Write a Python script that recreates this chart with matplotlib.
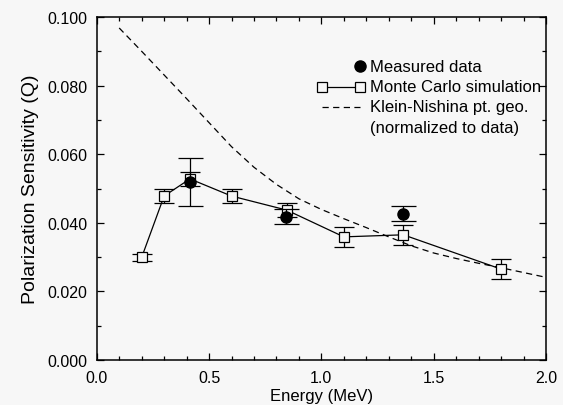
import matplotlib
matplotlib.use("Agg")
import matplotlib.pyplot as plt
from matplotlib.ticker import MultipleLocator, FormatStrFormatter

plt.rcParams['font.family'] = ['Liberation Sans', 'DejaVu Sans']

# Monte Carlo simulation
mc_energy = [0.20, 0.30, 0.415, 0.60, 0.846, 1.10, 1.365, 1.80]
mc_q = [0.0299, 0.0478, 0.0528, 0.0478, 0.0437, 0.0359, 0.0365, 0.0265]
mc_err = [0.0011, 0.0020, 0.0021, 0.0020, 0.0021, 0.0029, 0.0030, 0.0029]

# measured data
meas_energy = [0.415, 0.843, 1.365]
meas_q = [0.0518, 0.0418, 0.0427]
meas_err = [0.0070, 0.0021, 0.0021]

# Klein-Nishina point geometry (normalized to data)
kn_energy = [0.10, 0.20, 0.30, 0.40, 0.50, 0.60, 0.70, 0.80, 0.90, 1.00,
             1.10, 1.20, 1.30, 1.40, 1.50, 1.60, 1.70, 1.80, 1.90, 2.00]
kn_q = [0.0968, 0.0900, 0.0831, 0.0762, 0.0692, 0.0622, 0.0562, 0.0512, 0.0470, 0.0439,
        0.0412, 0.0386, 0.0359, 0.0333, 0.0312, 0.0296, 0.0282, 0.0269, 0.0255, 0.0241]

bg = '#f7f7f7'
fig = plt.figure(figsize=(5.63, 4.06), dpi=100, facecolor=bg)
ax = fig.add_axes([0.1718, 0.1108, 0.7980, 0.8449], facecolor=bg)

ax.plot(kn_energy, kn_q, color='black', lw=0.9, dashes=(5, 3.5))

ax.errorbar(mc_energy, mc_q, yerr=mc_err, color='black', lw=0.9,
            marker='s', markersize=6.5, markerfacecolor=bg, markeredgecolor='black',
            markeredgewidth=0.9, capsize=7.5, capthick=0.9, elinewidth=0.9, zorder=3)
ax.errorbar(meas_energy, meas_q, yerr=meas_err, color='black', ls='none',
            marker='o', markersize=8, capsize=9, capthick=0.9, elinewidth=0.9, zorder=4)

ax.set_xlim(0, 2.0)
ax.set_ylim(0, 0.100)
ax.xaxis.set_major_locator(MultipleLocator(0.5))
ax.xaxis.set_minor_locator(MultipleLocator(0.1))
ax.yaxis.set_major_locator(MultipleLocator(0.02))
ax.yaxis.set_minor_locator(MultipleLocator(0.01))
ax.xaxis.set_major_formatter(FormatStrFormatter('%.1f'))
ax.yaxis.set_major_formatter(FormatStrFormatter('%.3f'))
ax.tick_params(which='both', direction='in', top=True, right=True, width=0.9)
ax.tick_params(which='major', length=5, labelsize=11.5, pad=7)
ax.tick_params(which='minor', length=3)
for s in ax.spines.values():
    s.set_linewidth(1.1)

ax.set_xlabel('Energy (MeV)', fontsize=12, labelpad=2)
ax.set_ylabel('Polarization Sensitivity (Q)', fontsize=14, labelpad=6)

# legend drawn by hand, in axes fractions
tr = ax.transAxes
tx = 0.609
ax.plot([0.586], [0.857], 'o', color='black', markersize=8, transform=tr, clip_on=False)
ax.text(tx, 0.857, 'Measured data', transform=tr, va='center', fontsize=12)
ax.plot([0.501, 0.586], [0.796, 0.796], color='black', lw=0.9, marker='s', markersize=6.5,
        markerfacecolor=bg, markeredgewidth=0.9, transform=tr, clip_on=False)
ax.text(tx, 0.796, 'Monte Carlo simulation', transform=tr, va='center', fontsize=12)
ax.plot([0.501, 0.586], [0.738, 0.738], color='black', lw=0.9, dashes=(5, 3.5),
        transform=tr, clip_on=False)
ax.text(tx, 0.738, 'Klein-Nishina pt. geo.', transform=tr, va='center', fontsize=12)
ax.text(tx, 0.679, '(normalized to data)', transform=tr, va='center', fontsize=12)

fig.savefig('out.png', dpi=100, facecolor=bg)
